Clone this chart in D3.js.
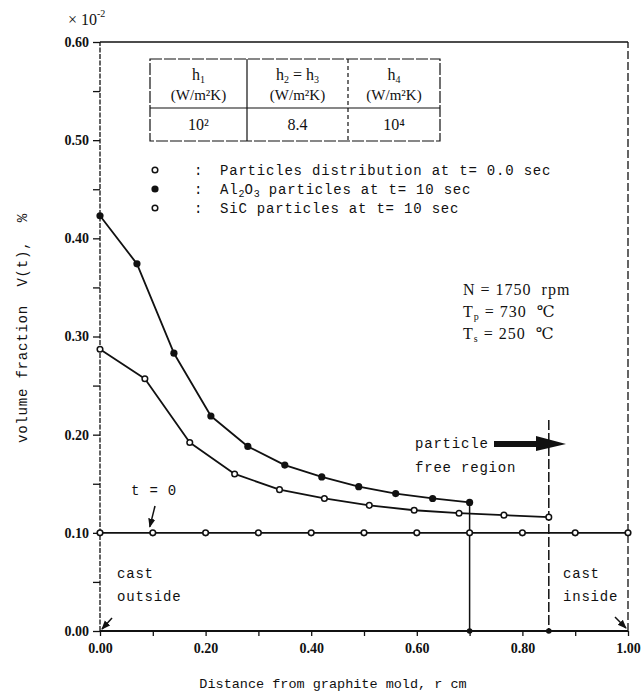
<!DOCTYPE html>
<html>
<head>
<meta charset="utf-8">
<script src="https://cdn.jsdelivr.net/npm/d3@7"></script>
<style>
  html, body { margin: 0; padding: 0; background: #fff; }
  svg { display: block; }
  .mono { font-family: "Liberation Mono", "DejaVu Sans Mono", monospace; }
  .serif { font-family: "Liberation Serif", "DejaVu Serif", serif; }
</style>
</head>
<body>
<svg id="chart" width="643" height="696"></svg>
<script>
// Volume fraction of particles vs. distance from the graphite mold
const al2o3X = [0, 0.07, 0.14, 0.21, 0.28, 0.35, 0.42, 0.49, 0.56, 0.63, 0.70];
const al2o3V = [0.423, 0.374, 0.283, 0.219, 0.188, 0.169, 0.157, 0.147, 0.140, 0.135, 0.131];
const sicX = [0, 0.085, 0.17, 0.255, 0.34, 0.425, 0.51, 0.595, 0.68, 0.765, 0.85];
const sicV = [0.287, 0.257, 0.192, 0.160, 0.144, 0.135, 0.128, 0.123, 0.120, 0.118, 0.116];
const initX = [0, 0.1, 0.2, 0.3, 0.4, 0.5, 0.6, 0.7, 0.8, 0.9, 1.0];
const initV = [0.10, 0.10, 0.10, 0.10, 0.10, 0.10, 0.10, 0.10, 0.10, 0.10, 0.10];

const xTicks = [0, 0.2, 0.4, 0.6, 0.8, 1.0];
const xMinorTicks = [0.1, 0.3, 0.5, 0.7, 0.9];
const yTicks = [0, 0.1, 0.2, 0.3, 0.4, 0.5, 0.6];
const yMinorTicks = [0.05, 0.15, 0.25, 0.35, 0.45, 0.55];

const tableUnit = "(W/m²K)";
const tableVals = ["10²", "8.4", "10⁴"];

const svg = d3.select("#chart");
const margin = { left: 100, right: 15, top: 42, bottom: 65 };
const W = 643, H = 696;
const x = d3.scaleLinear().domain([0, 1]).range([margin.left, W - margin.right]);
const y = d3.scaleLinear().domain([0, 0.6]).range([H - margin.bottom, margin.top]);

const ink = "#111";

// frame: dotted left axis, solid top, dashed right side
svg.append("line").attr("x1", x(0)).attr("x2", x(0)).attr("y1", y(0)).attr("y2", y(0.6))
  .attr("stroke", ink).attr("stroke-width", 1.3).attr("stroke-dasharray", "5,1.5");
svg.append("line").attr("x1", x(0)).attr("x2", x(1)).attr("y1", y(0.6)).attr("y2", y(0.6))
  .attr("stroke", ink).attr("stroke-width", 1.6);
svg.append("line").attr("x1", x(1)).attr("x2", x(1)).attr("y1", y(0)).attr("y2", y(0.6))
  .attr("stroke", ink).attr("stroke-width", 1.3).attr("stroke-dasharray", "8,3");

// y axis
const yAxis = d3.axisLeft(y).tickValues(yTicks).tickFormat(d3.format(".2f")).tickSize(7).tickPadding(4);
const gy = svg.append("g").attr("transform", `translate(${x(0)},0)`).call(yAxis);
gy.select(".domain").remove();
gy.selectAll(".tick line").attr("stroke", ink).attr("stroke-width", 1.3);
gy.selectAll(".tick text").attr("class", "serif").attr("font-size", 14).attr("font-weight", "bold").attr("fill", ink);
const gyMinor = svg.append("g").attr("transform", `translate(${x(0)},0)`)
  .call(d3.axisLeft(y).tickValues(yMinorTicks).tickFormat("").tickSize(7));
gyMinor.select(".domain").remove();
gyMinor.selectAll(".tick line").attr("stroke", ink).attr("stroke-width", 1.3);

// x axis
const xAxis = d3.axisBottom(x).tickValues(xTicks).tickFormat(d3.format(".2f")).tickSize(5).tickPadding(7);
const gx = svg.append("g").attr("transform", `translate(0,${y(0)})`).call(xAxis);
gx.select(".domain").attr("stroke", ink).attr("stroke-width", 1.8).attr("d", `M${x(0)},0H${x(1)}`);
gx.selectAll(".tick line").attr("stroke", ink).attr("stroke-width", 1.3);
gx.selectAll(".tick text").attr("class", "serif").attr("font-size", 14).attr("font-weight", "bold").attr("fill", ink);
const gxMinor = svg.append("g").attr("transform", `translate(0,${y(0)})`)
  .call(d3.axisBottom(x).tickValues(xMinorTicks).tickFormat("").tickSize(5));
gxMinor.select(".domain").remove();
gxMinor.selectAll(".tick line").attr("stroke", ink).attr("stroke-width", 1.3);

// multiplier above the y axis
const mult = svg.append("text").attr("class", "serif").attr("x", 68).attr("y", 25)
  .attr("font-size", 16).attr("fill", ink);
mult.append("tspan").text("× 10");
mult.append("tspan").attr("dy", -8).attr("font-size", 10).text("-2");

// axis titles
svg.append("text").attr("class", "mono").attr("x", 333).attr("y", 688)
  .attr("text-anchor", "middle").attr("font-size", 13.5).attr("fill", ink)
  .text("Distance from graphite mold, r cm");
svg.append("text").attr("class", "mono")
  .attr("transform", `translate(27,328) rotate(-90)`)
  .attr("text-anchor", "middle").attr("font-size", 14).attr("letter-spacing", 0.8)
  .attr("fill", ink).attr("xml:space", "preserve")
  .text("volume fraction  V(t),  %");

// region boundaries
svg.append("line").attr("x1", x(0.70)).attr("x2", x(0.70)).attr("y1", y(al2o3V[al2o3V.length - 1])).attr("y2", y(0))
  .attr("stroke", ink).attr("stroke-width", 1.5);
svg.append("line").attr("x1", x(0.85)).attr("x2", x(0.85)).attr("y1", y(0.215)).attr("y2", y(0))
  .attr("stroke", ink).attr("stroke-width", 1.5).attr("stroke-dasharray", "10,3");
svg.selectAll("circle.base").data([0.70, 0.85]).join("circle")
  .attr("cx", d => x(d)).attr("cy", y(0)).attr("r", 2.8).attr("fill", ink);

// curves
const line = d3.line().x(d => x(d[0])).y(d => y(d[1]));
const initPts = initX.map((v, i) => [v, initV[i]]);
const alPts = al2o3X.map((v, i) => [v, al2o3V[i]]);
const sicPts = sicX.map((v, i) => [v, sicV[i]]);
[initPts, alPts, sicPts].forEach(pts => {
  svg.append("path").datum(pts).attr("d", line).attr("fill", "none")
    .attr("stroke", ink).attr("stroke-width", 1.8).attr("stroke-linejoin", "round");
});

// markers
svg.selectAll("circle.init").data(initPts).join("circle").attr("class", "init")
  .attr("cx", d => x(d[0])).attr("cy", d => y(d[1])).attr("r", 2.8)
  .attr("fill", "#fff").attr("stroke", ink).attr("stroke-width", 1.6);
svg.selectAll("circle.sic").data(sicPts).join("circle").attr("class", "sic")
  .attr("cx", d => x(d[0])).attr("cy", d => y(d[1])).attr("r", 2.8)
  .attr("fill", "#fff").attr("stroke", ink).attr("stroke-width", 1.5);
svg.selectAll("circle.al").data(alPts).join("circle").attr("class", "al")
  .attr("cx", d => x(d[0])).attr("cy", d => y(d[1])).attr("r", 3.6)
  .attr("fill", ink);

// heat transfer coefficient table
const tb = { x0: 150, x1: 440, y0: 59, ymid: 108, y1: 141 };
const colX = [150, 247, 348, 440];
const tg = svg.append("g").attr("stroke", ink).attr("stroke-width", 1.2).attr("fill", "none");
tg.append("rect").attr("x", tb.x0).attr("y", tb.y0).attr("width", tb.x1 - tb.x0).attr("height", tb.y1 - tb.y0)
  .attr("stroke-dasharray", "12,2");
tg.append("line").attr("x1", tb.x0).attr("x2", tb.x1).attr("y1", tb.ymid).attr("y2", tb.ymid);
[colX[1], colX[2]].forEach((cx, i) => {
  tg.append("line").attr("x1", cx).attr("x2", cx).attr("y1", tb.y0).attr("y2", tb.y1)
    .attr("stroke-dasharray", i === 0 ? null : "4,3");
});
const headParts = [
  [["h", 0], ["1", 1]],
  [["h", 0], ["2", 1], [" = h", 0], ["3", 1]],
  [["h", 0], ["4", 1]]
];
headParts.forEach((parts, i) => {
  const cx = (colX[i] + colX[i + 1]) / 2;
  const t = svg.append("text").attr("class", "serif").attr("x", cx).attr("y", 80)
    .attr("text-anchor", "middle").attr("font-size", 16).attr("fill", ink).attr("xml:space", "preserve");
  let prevSub = 0;
  parts.forEach(([s, sub]) => {
    t.append("tspan").attr("font-size", sub ? 10 : 16).attr("dy", (sub - prevSub) * 3).text(s);
    prevSub = sub;
  });
  svg.append("text").attr("class", "serif").attr("x", cx).attr("y", 100)
    .attr("text-anchor", "middle").attr("font-size", 15).attr("fill", ink).text(tableUnit);
  svg.append("text").attr("class", "serif").attr("x", cx).attr("y", 130)
    .attr("text-anchor", "middle").attr("font-size", 16).attr("fill", ink).text(tableVals[i]);
});

// legend
const legendParts = [
  [["Particles distribution at t= 0.0 sec", 0]],
  [["Al", 0], ["2", 1], ["O", 0], ["3", 1], [" particles at t= 10 sec", 0]],
  [["SiC particles at t= 10 sec", 0]]
];
const legY = [170, 189, 208];
legendParts.forEach((parts, i) => {
  const my = legY[i];
  if (i === 1) {
    svg.append("circle").attr("cx", 155).attr("cy", my).attr("r", 3.6).attr("fill", ink);
  } else {
    svg.append("circle").attr("cx", 155).attr("cy", my).attr("r", 2.8)
      .attr("fill", "#fff").attr("stroke", ink).attr("stroke-width", 1.5);
  }
  svg.append("text").attr("class", "mono").attr("x", 194).attr("y", my + 5)
    .attr("font-size", 14).attr("fill", ink).text(":");
  const t = svg.append("text").attr("class", "mono").attr("x", 220).attr("y", my + 5)
    .attr("font-size", 14).attr("letter-spacing", 0.8).attr("fill", ink).attr("xml:space", "preserve");
  let prevSub = 0;
  parts.forEach(([s, sub]) => {
    t.append("tspan").attr("font-size", sub ? 10 : 14).attr("letter-spacing", sub ? 0 : 0.8)
      .attr("dy", (sub - prevSub) * 3).text(s);
    prevSub = sub;
  });
});

// operating conditions
const condParts = [
  [["N = 1750  rpm", 0]],
  [["T", 0], ["p", 1], [" = 730  ℃", 0]],
  [["T", 0], ["s", 1], [" = 250  ℃", 0]]
];
condParts.forEach((parts, i) => {
  const t = svg.append("text").attr("class", "serif").attr("x", 463).attr("y", 295 + i * 22)
    .attr("font-size", 16).attr("letter-spacing", 1).attr("fill", ink).attr("xml:space", "preserve");
  let prevSub = 0;
  parts.forEach(([s, sub]) => {
    t.append("tspan").attr("font-size", sub ? 10 : 16).attr("dy", (sub - prevSub) * 3).text(s);
    prevSub = sub;
  });
});

// annotations
const ann = (txt, ax, ay) => svg.append("text").attr("class", "mono").attr("x", ax).attr("y", ay)
  .attr("font-size", 14).attr("letter-spacing", 0.8).attr("fill", ink).text(txt);
ann("t = 0", 131, 495);
ann("cast", 117, 578);
ann("outside", 117, 601);
ann("cast", 563, 578);
ann("inside", 563, 601);
ann("particle", 415, 448);
ann("free region", 415, 472);

// arrows
const defs = svg.append("defs");
defs.append("marker").attr("id", "ah").attr("viewBox", "0 0 10 10").attr("refX", 9).attr("refY", 5)
  .attr("markerWidth", 6).attr("markerHeight", 6).attr("orient", "auto")
  .append("path").attr("d", "M0,1L10,5L0,9Z").attr("fill", ink);
const arrow = (x1, y1, x2, y2) => svg.append("line").attr("x1", x1).attr("y1", y1).attr("x2", x2).attr("y2", y2)
  .attr("stroke", ink).attr("stroke-width", 1.5).attr("marker-end", "url(#ah)");
arrow(155, 506, x(0.1) - 3, y(0.1) - 6);
arrow(112, 618, x(0) + 2, y(0) - 2);
arrow(615, 617, x(1) - 2, y(0) - 3);

// thick "particle free region" arrow
const ay = 444;
svg.append("path")
  .attr("d", `M494,${ay - 3}L536,${ay - 3}L536,${ay - 8}L566,${ay}L536,${ay + 7}L536,${ay + 3}L494,${ay + 3}Z`)
  .attr("fill", ink);
</script>
</body>
</html>
